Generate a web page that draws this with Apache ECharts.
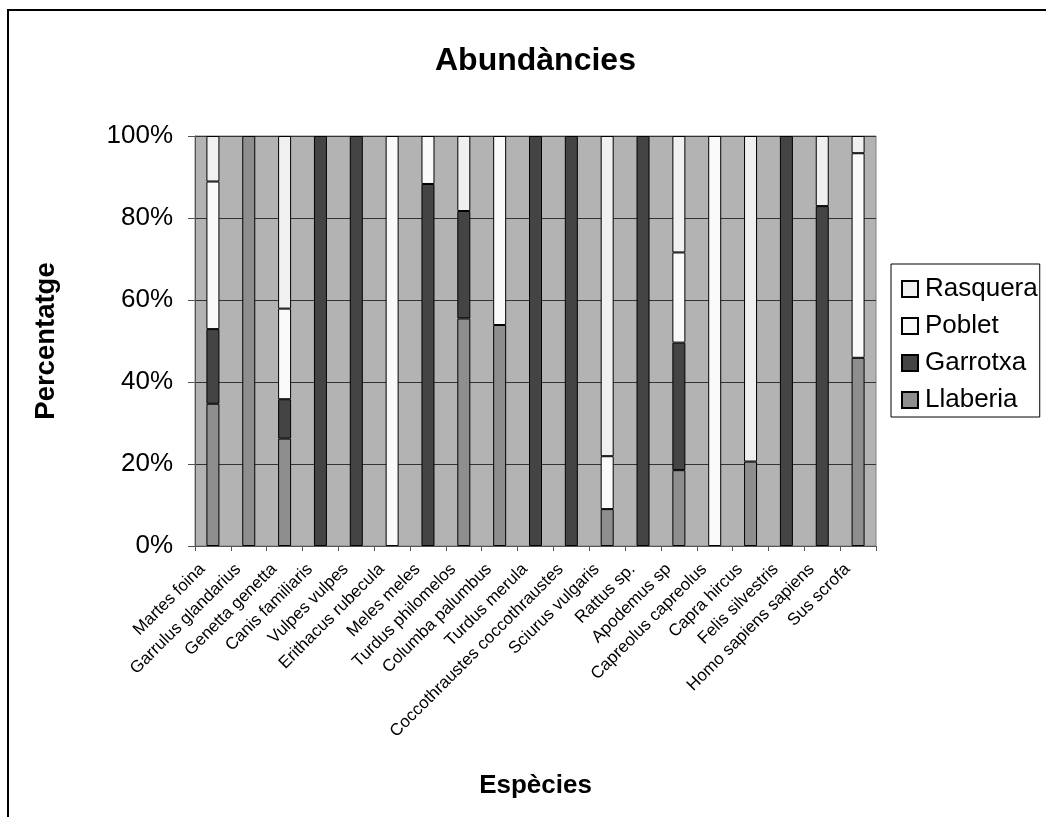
<!DOCTYPE html>
<html>
<head>
<meta charset="utf-8">
<script src="https://cdn.jsdelivr.net/npm/echarts@6/dist/echarts.min.js"></script>
<style>
html,body{margin:0;padding:0;background:#fff;}
#chart{width:1046px;height:817px;}
</style>
</head>
<body>
<div id="chart"></div>
<script>
var categories = ["Martes foina","Garrulus glandarius","Genetta genetta","Canis familiaris","Vulpes vulpes","Erithacus rubecula","Meles meles","Turdus philomelos","Columba palumbus","Turdus merula","Coccothraustes coccothraustes","Sciurus vulgaris","Rattus sp.","Apodemus sp","Capreolus capreolus","Capra hircus","Felis silvestris","Homo sapiens sapiens","Sus scrofa"];
var llaberia = [34.7,100,26.2,0,0,0,0,55.5,53.9,0,0,9.0,0,18.5,0,20.6,0,0,45.9];
var garrotxa = [18.2,0,9.6,100,100,0,88.3,26.2,0,100,100,0,100,31.1,0,0,100,82.9,0];
var poblet   = [36.0,0,22.1,0,0,100,11.7,0,46.1,0,0,12.9,0,22.0,100,0,0,0,49.9];
var rasquera = [11.1,0,42.1,0,0,0,0,18.3,0,0,0,78.1,0,28.4,0,79.4,0,17.1,4.2];
var yTicks = [0,20,40,60,80,100];

var FONT = '"Liberation Sans", Arial, sans-serif';
function clean(a){ return a.map(function(v){ return v === 0 ? null : v; }); }
function mk(name, data, color){
  return {
    name: name, type: 'bar', stack: 'total', barWidth: 13,
    data: clean(data),
    itemStyle: { color: color, borderColor: '#000', borderWidth: 1 },
    emphasis: { disabled: true }
  };
}
var chart = echarts.init(document.getElementById('chart'), null, {renderer:'canvas'});
chart.setOption({
  animation: false,
  backgroundColor: '#fff',
  title: {
    text: 'Abundàncies', left: 430, top: 40,
    textStyle: { fontFamily: FONT, fontSize: 32, fontWeight: 'bold', color: '#000' }
  },
  legend: {
    orient: 'vertical', left: 891, top: 264,
    data: ['Rasquera','Poblet','Garrotxa','Llaberia'],
    itemWidth: 16, itemHeight: 16, itemGap: 11,
    icon: 'rect',
    padding: [12, 2, 4, 10],
    borderColor: '#000', borderWidth: 1, backgroundColor: '#fff',
    textStyle: { fontFamily: FONT, fontSize: 26, color: '#000', padding: [0,0,0,2] },
    selectedMode: false
  },
  grid: {
    left: 195, right: 170, top: 136, bottom: 271,
    show: true, backgroundColor: '#b3b3b3', borderColor: '#808080', borderWidth: 1
  },
  xAxis: {
    type: 'category', data: categories,
    name: 'Espècies', nameLocation: 'middle', nameGap: 227,
    nameTextStyle: { fontFamily: FONT, fontSize: 26, fontWeight: 'bold', color: '#000' },
    axisLine: { show: true, lineStyle: { color: '#555', width: 1 } },
    axisTick: { show: true, length: 5, lineStyle: { color: '#555' } },
    axisLabel: { interval: 0, rotate: 45, margin: 10, padding: [0, 15, 0, 0], fontFamily: FONT, fontSize: 17, color: '#000' },
    splitLine: { show: false }
  },
  yAxis: {
    type: 'value', min: 0, max: 100, interval: 20,
    name: 'Percentatge', nameLocation: 'middle', nameGap: 135,
    nameTextStyle: { fontFamily: FONT, fontSize: 27.5, fontWeight: 'bold', color: '#000' },
    axisLine: { show: true, lineStyle: { color: '#555', width: 1 } },
    axisTick: { show: true, length: 7, lineStyle: { color: '#555' } },
    axisLabel: {
      margin: 22, fontFamily: FONT, fontSize: 26, color: '#000',
      formatter: function(v){ return yTicks.indexOf(v) >= 0 ? v + '%' : ''; }
    },
    splitLine: { show: true, lineStyle: { color: '#333', width: 1 } }
  },
  series: [
    mk('Llaberia', llaberia, '#8e8e8e'),
    mk('Garrotxa', garrotxa, '#444444'),
    mk('Poblet', poblet, '#fafafa'),
    mk('Rasquera', rasquera, '#f0f0f0')
  ],
  graphic: [{
    type: 'polyline', silent: true, z: 100,
    shape: { points: [[8, 817], [8, 10], [1046, 10]] },
    style: { stroke: '#000', lineWidth: 2, fill: null }
  }]
});
</script>
</body>
</html>
